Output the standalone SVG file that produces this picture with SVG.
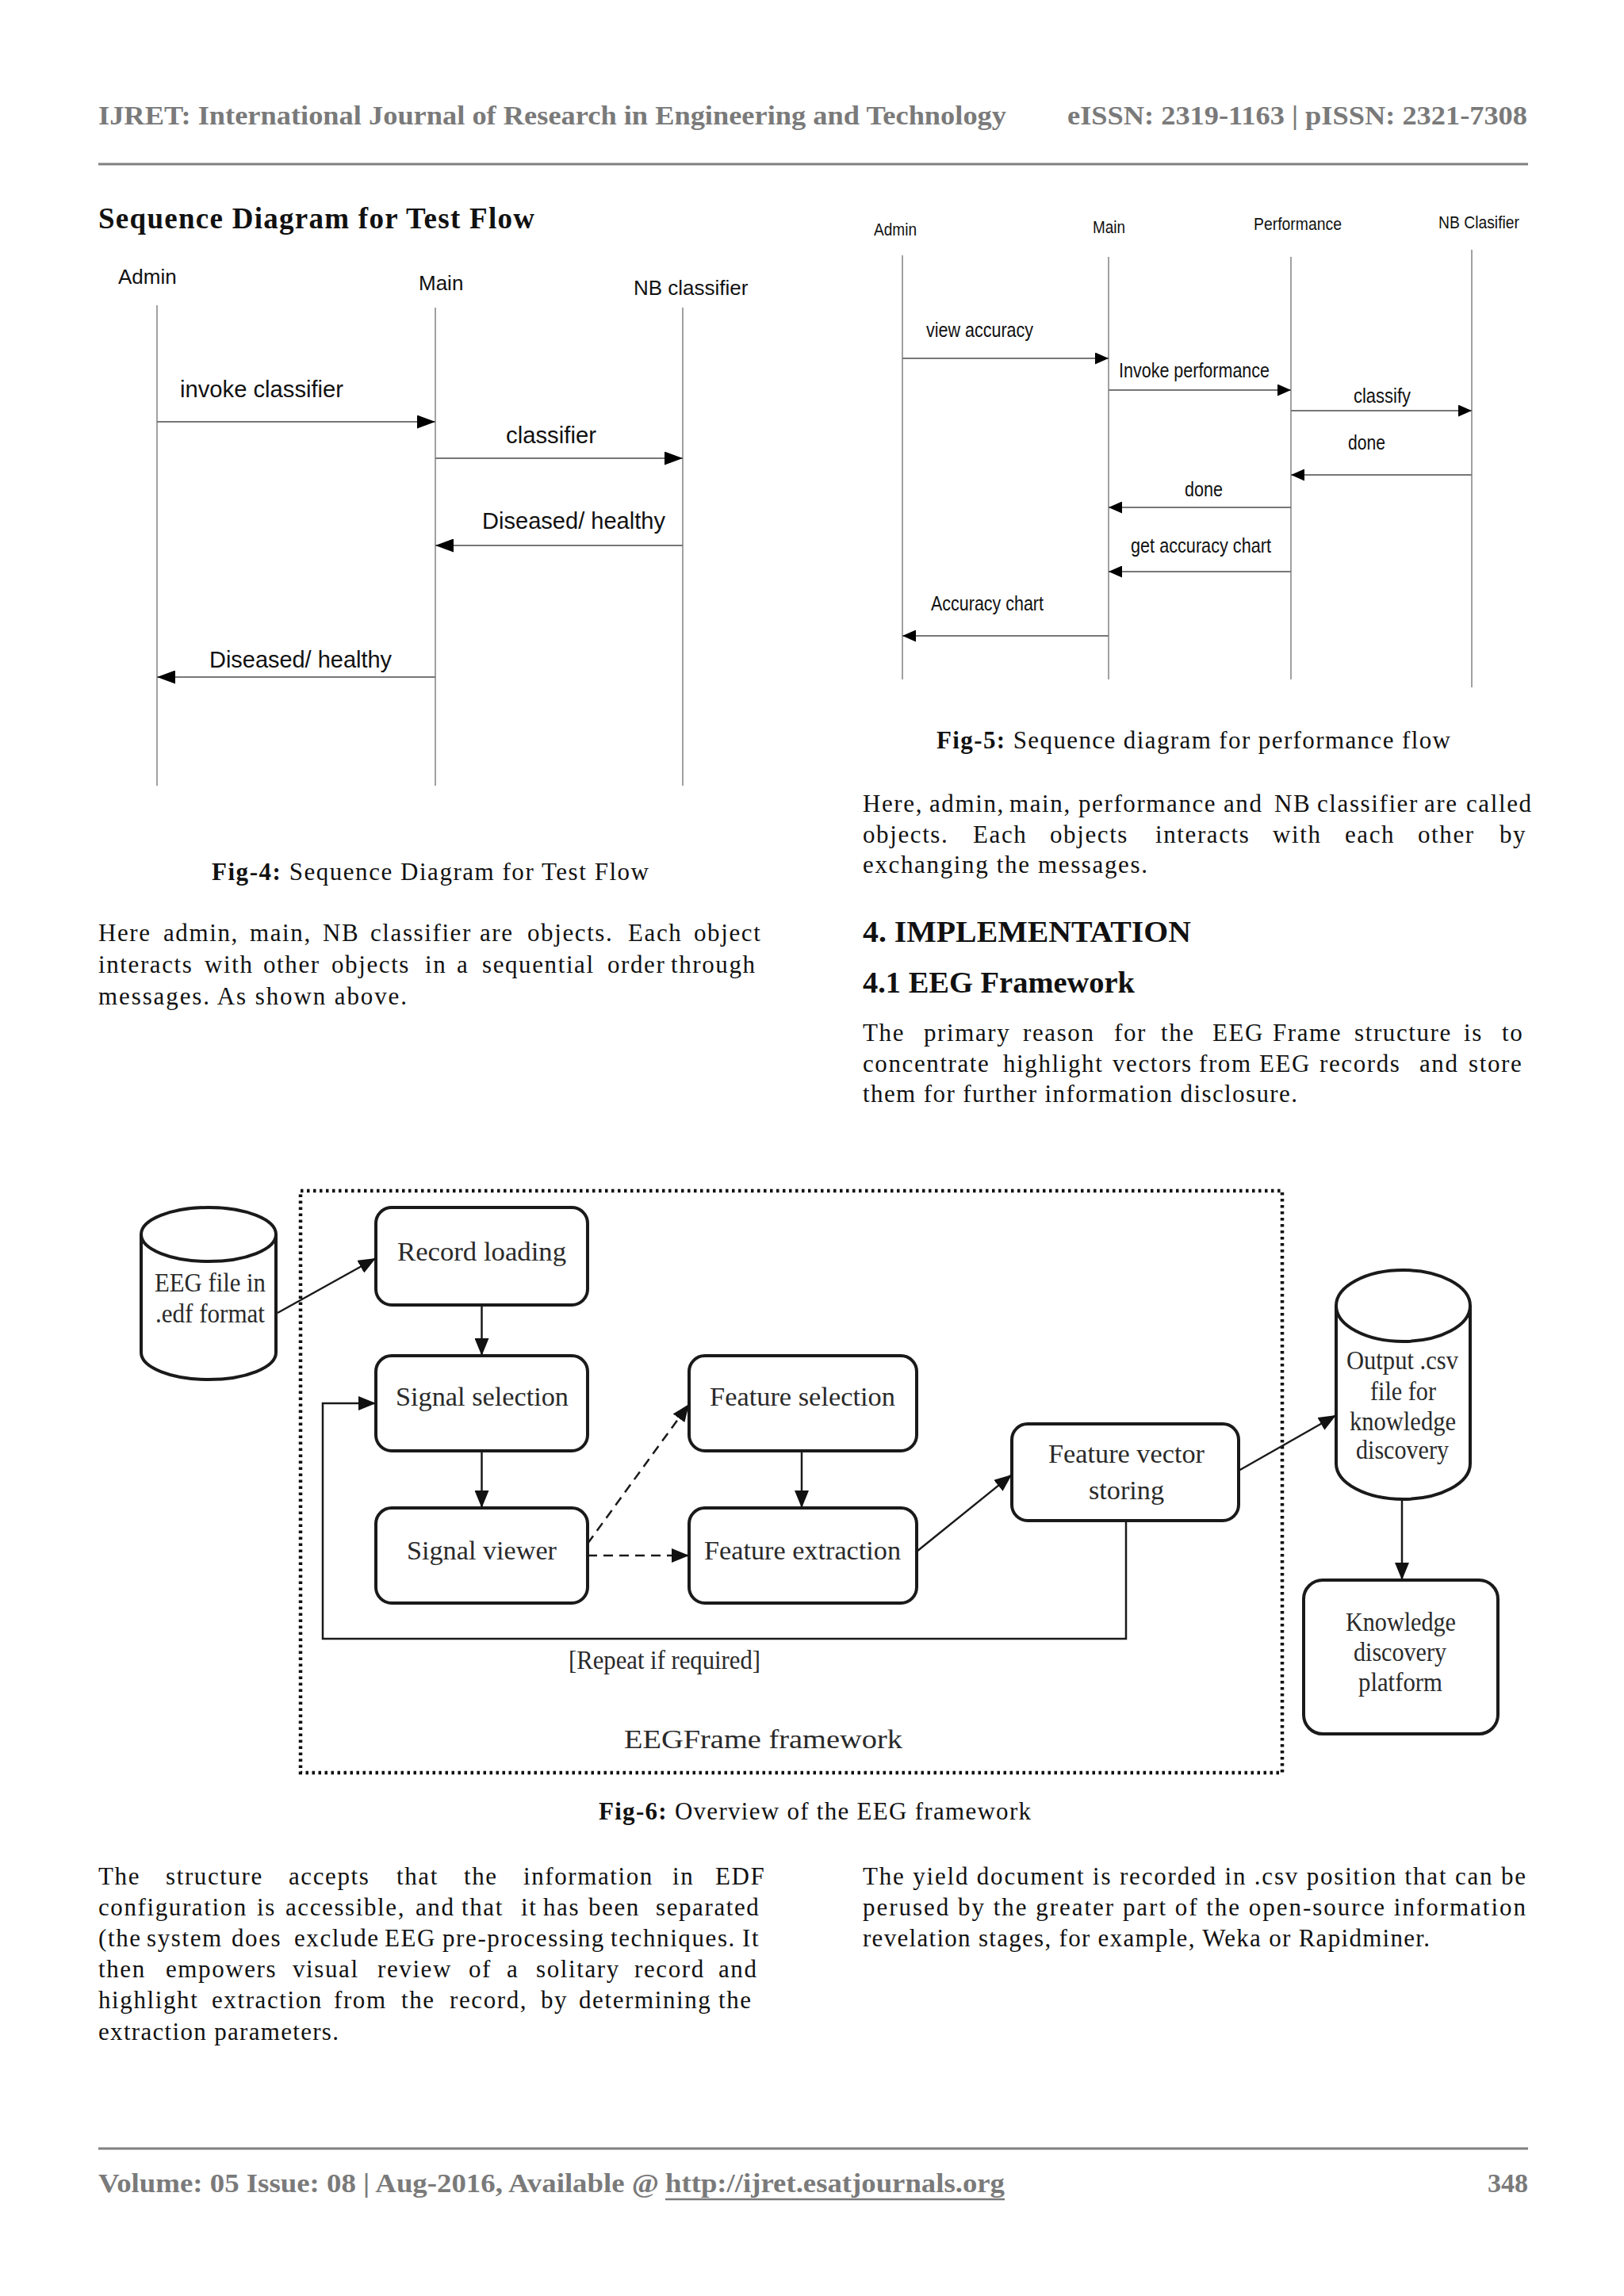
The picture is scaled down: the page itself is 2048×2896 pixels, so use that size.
<svg xmlns="http://www.w3.org/2000/svg" width="2048" height="2896" viewBox="0 0 2048 2896">
<style>
.hdr{font-family:"Liberation Serif",serif;font-weight:bold;font-size:34px;fill:#7a7a7a}
.b{font-family:"Liberation Serif",serif;font-size:31px;fill:#111;letter-spacing:1.6px}
.bt{font-family:"Liberation Serif",serif;font-size:31px;fill:#111}
.h{font-family:"Liberation Serif",serif;font-weight:bold;font-size:37px;fill:#111}
.s4{font-family:"Liberation Sans",Arial,sans-serif;font-size:26px;fill:#111}
.m4{font-family:"Liberation Sans",Arial,sans-serif;font-size:29px;fill:#111}
.s5{font-family:"Liberation Sans",Arial,sans-serif;font-size:22px;fill:#111}
.m5{font-family:"Liberation Sans",Arial,sans-serif;font-size:25px;fill:#111}
.life{stroke:#8a8a8a;stroke-width:1.6;fill:none}
.msg4{stroke:#777;stroke-width:2;fill:none;marker-end:url(#a4)}
.msg5{stroke:#777;stroke-width:2;fill:none;marker-end:url(#a5)}
.nd{fill:#fff;stroke:#1a1a1a;stroke-width:4}
.nt{font-family:"Liberation Serif",serif;font-size:33px;fill:#2a2a2a}
.cn{stroke:#1a1a1a;stroke-width:2.5;fill:none;marker-end:url(#a6)}
.dash{stroke-dasharray:12 8}
</style>
<defs>
<marker id="a4" markerUnits="userSpaceOnUse" markerWidth="23" markerHeight="17" refX="23" refY="8.5" orient="auto"><path d="M0,0 L23,8.5 L0,17 z" fill="#000"/></marker>
<marker id="a5" markerUnits="userSpaceOnUse" markerWidth="17" markerHeight="15" refX="17" refY="7.5" orient="auto"><path d="M0,0 L17,7.5 L0,15 z" fill="#000"/></marker>
<marker id="a6" markerUnits="userSpaceOnUse" markerWidth="22" markerHeight="18" refX="22" refY="9" orient="auto"><path d="M0,0 L22,9 L0,18 z" fill="#111"/></marker>
</defs>
<rect width="2048" height="2896" fill="#fff"/>

<!-- header -->
<g id="header">
<text class="hdr" x="124" y="157" textLength="1145" lengthAdjust="spacingAndGlyphs">IJRET: International Journal of Research in Engineering and Technology</text>
<text class="hdr" x="1346" y="157" textLength="580" lengthAdjust="spacingAndGlyphs">eISSN: 2319-1163 | pISSN: 2321-7308</text>
<line x1="124" y1="207" x2="1927" y2="207" stroke="#808080" stroke-width="3"/>
</g>

<!-- Fig-4 -->
<g id="fig4">
<text class="h" x="124" y="288" textLength="550" lengthAdjust="spacing">Sequence Diagram for Test Flow</text>
<g id="f4-admin"><text class="s4" x="149" y="358">Admin</text><line class="life" x1="198" y1="385" x2="198" y2="991"/></g>
<g id="f4-main"><text class="s4" x="528" y="366">Main</text><line class="life" x1="549" y1="388" x2="549" y2="991"/></g>
<g id="f4-nb"><text class="s4" x="799" y="372">NB classifier</text><line class="life" x1="861" y1="388" x2="861" y2="991"/></g>
<g id="f4-connectors">
<path class="msg4" d="M198,532 H549"/>
<path class="msg4" d="M549,578 H861"/>
<path class="msg4" d="M861,688 H549"/>
<path class="msg4" d="M549,854 H198"/>
<text class="m4" x="227" y="501" textLength="206" lengthAdjust="spacingAndGlyphs">invoke classifier</text>
<text class="m4" x="638" y="559" textLength="114" lengthAdjust="spacingAndGlyphs">classifier</text>
<text class="m4" x="608" y="667" textLength="231" lengthAdjust="spacingAndGlyphs">Diseased/ healthy</text>
<text class="m4" x="264" y="842" textLength="230" lengthAdjust="spacingAndGlyphs">Diseased/ healthy</text>
</g>
<text class="bt" x="267" y="1110" textLength="551" lengthAdjust="spacing"><tspan font-weight="bold">Fig-4:</tspan> Sequence Diagram  for Test Flow</text>
</g>

<!-- left para 1 -->
<text class="b" y="1187"><tspan x="124">Here </tspan><tspan x="206">admin, </tspan><tspan x="315">main, </tspan><tspan x="407">NB </tspan><tspan x="467">classifier </tspan><tspan x="605">are </tspan><tspan x="665">objects. </tspan><tspan x="792">Each </tspan><tspan x="875">object</tspan></text>
<text class="b" y="1227"><tspan x="124">interacts </tspan><tspan x="258">with </tspan><tspan x="332">other </tspan><tspan x="418">objects </tspan><tspan x="536">in </tspan><tspan x="576">a </tspan><tspan x="608">sequential </tspan><tspan x="766">order </tspan><tspan x="846">through</tspan></text>
<text class="bt" x="124" y="1267" textLength="389" lengthAdjust="spacing">messages. As shown above.</text>

<!-- Fig-5 -->
<g id="fig5">
<g id="f5-admin"><text class="s5" x="1102" y="297" textLength="54" lengthAdjust="spacingAndGlyphs">Admin</text><line class="life" x1="1138" y1="322" x2="1138" y2="857"/></g>
<g id="f5-main"><text class="s5" x="1378" y="294" textLength="41" lengthAdjust="spacingAndGlyphs">Main</text><line class="life" x1="1398" y1="324" x2="1398" y2="857"/></g>
<g id="f5-perf"><text class="s5" x="1581" y="290" textLength="111" lengthAdjust="spacingAndGlyphs">Performance</text><line class="life" x1="1628" y1="324" x2="1628" y2="857"/></g>
<g id="f5-nb"><text class="s5" x="1814" y="288" textLength="102" lengthAdjust="spacingAndGlyphs">NB Clasifier</text><line class="life" x1="1856" y1="315" x2="1856" y2="867"/></g>
<g id="f5-connectors">
<path class="msg5" d="M1138,452 H1398"/>
<path class="msg5" d="M1398,492 H1628"/>
<path class="msg5" d="M1628,518 H1856"/>
<path class="msg5" d="M1856,599 H1628"/>
<path class="msg5" d="M1628,640 H1398"/>
<path class="msg5" d="M1628,721 H1398"/>
<path class="msg5" d="M1398,802 H1138"/>
<text class="m5" x="1168" y="425" textLength="135" lengthAdjust="spacingAndGlyphs">view accuracy</text>
<text class="m5" x="1411" y="476" textLength="190" lengthAdjust="spacingAndGlyphs">Invoke performance</text>
<text class="m5" x="1707" y="508" textLength="72" lengthAdjust="spacingAndGlyphs">classify</text>
<text class="m5" x="1700" y="567" textLength="47" lengthAdjust="spacingAndGlyphs">done</text>
<text class="m5" x="1494" y="626" textLength="48" lengthAdjust="spacingAndGlyphs">done</text>
<text class="m5" x="1426" y="697" textLength="177" lengthAdjust="spacingAndGlyphs">get accuracy chart</text>
<text class="m5" x="1174" y="770" textLength="142" lengthAdjust="spacingAndGlyphs">Accuracy chart</text>
</g>
<text class="bt" x="1181" y="944" textLength="648" lengthAdjust="spacing"><tspan font-weight="bold">Fig-5:</tspan> Sequence diagram for performance  flow</text>
</g>

<!-- right para 1 -->
<text class="b" y="1024" letter-spacing="1.2"><tspan x="1088">Here, </tspan><tspan x="1172">admin, </tspan><tspan x="1273">main, </tspan><tspan x="1360">performance </tspan><tspan x="1543">and </tspan><tspan x="1607">NB </tspan><tspan x="1661">classifier </tspan><tspan x="1796">are </tspan><tspan x="1849">called</tspan></text>
<text class="b" y="1063"><tspan x="1088">objects. </tspan><tspan x="1227">Each </tspan><tspan x="1324">objects </tspan><tspan x="1457">interacts </tspan><tspan x="1605">with </tspan><tspan x="1696">each </tspan><tspan x="1788">other </tspan><tspan x="1891">by</tspan></text>
<text class="bt" x="1088" y="1101" textLength="359" lengthAdjust="spacing">exchanging the messages.</text>
<text class="h" x="1088" y="1188" textLength="414" lengthAdjust="spacingAndGlyphs">4. IMPLEMENTATION</text>
<text class="h" x="1088" y="1252" textLength="343" lengthAdjust="spacingAndGlyphs">4.1 EEG Framework</text>
<text class="b" y="1313"><tspan x="1088">The </tspan><tspan x="1165">primary </tspan><tspan x="1290">reason </tspan><tspan x="1405">for </tspan><tspan x="1464">the </tspan><tspan x="1529">EEG </tspan><tspan x="1605">Frame </tspan><tspan x="1708">structure </tspan><tspan x="1846">is </tspan><tspan x="1894">to</tspan></text>
<text class="b" y="1352" letter-spacing="0.8"><tspan x="1088">concentrate </tspan><tspan x="1265">highlight </tspan><tspan x="1403">vectors </tspan><tspan x="1512">from </tspan><tspan x="1588">EEG </tspan><tspan x="1664">records </tspan><tspan x="1790">and </tspan><tspan x="1852">store</tspan></text>
<text class="bt" x="1088" y="1390" textLength="548" lengthAdjust="spacing">them for further information  disclosure.</text>

<!-- Fig-6 -->
<g id="fig6">
<rect id="frame" x="379" y="1502" width="1238" height="734" fill="none" stroke="#111" stroke-width="4.5" stroke-dasharray="3.5 4.5"/>
<g id="n-eeg">
<path class="nd" d="M178,1557 L178,1706 A85,34 0 0 0 348,1706 L348,1557"/>
<ellipse class="nd" cx="263" cy="1557" rx="85" ry="34"/>
<text class="nt" x="195" y="1629" textLength="140" lengthAdjust="spacingAndGlyphs">EEG file in</text>
<text class="nt" x="196" y="1668" textLength="138" lengthAdjust="spacingAndGlyphs">.edf format</text>
</g>
<g id="n-record"><rect class="nd" x="474" y="1523" width="267" height="123" rx="20"/><text class="nt" x="501" y="1590" textLength="213" lengthAdjust="spacingAndGlyphs">Record loading</text></g>
<g id="n-sigsel"><rect class="nd" x="474" y="1710" width="267" height="120" rx="20"/><text class="nt" x="499" y="1773" textLength="218" lengthAdjust="spacingAndGlyphs">Signal selection</text></g>
<g id="n-sigview"><rect class="nd" x="474" y="1902" width="267" height="120" rx="20"/><text class="nt" x="513" y="1967" textLength="189" lengthAdjust="spacingAndGlyphs">Signal viewer</text></g>
<g id="n-featsel"><rect class="nd" x="869" y="1710" width="287" height="120" rx="20"/><text class="nt" x="895" y="1773" textLength="234" lengthAdjust="spacingAndGlyphs">Feature selection</text></g>
<g id="n-featext"><rect class="nd" x="869" y="1902" width="287" height="120" rx="20"/><text class="nt" x="888" y="1967" textLength="248" lengthAdjust="spacingAndGlyphs">Feature extraction</text></g>
<g id="n-fvs"><rect class="nd" x="1276" y="1796" width="286" height="122" rx="20"/><text class="nt" x="1322" y="1845" textLength="197" lengthAdjust="spacingAndGlyphs">Feature vector</text><text class="nt" x="1373" y="1891" textLength="95" lengthAdjust="spacingAndGlyphs">storing</text></g>
<g id="n-output">
<path class="nd" d="M1685,1647 L1685,1846 A84.5,45 0 0 0 1854,1846 L1854,1647"/>
<ellipse class="nd" cx="1769.5" cy="1647" rx="84.5" ry="45"/>
<text class="nt" x="1698" y="1727" textLength="141" lengthAdjust="spacingAndGlyphs">Output .csv</text>
<text class="nt" x="1728" y="1766" textLength="83" lengthAdjust="spacingAndGlyphs">file for</text>
<text class="nt" x="1702" y="1804" textLength="134" lengthAdjust="spacingAndGlyphs">knowledge</text>
<text class="nt" x="1710" y="1840" textLength="117" lengthAdjust="spacingAndGlyphs">discovery</text>
</g>
<g id="n-kdp"><rect class="nd" x="1644" y="1993" width="245" height="194" rx="24"/>
<text class="nt" x="1697" y="2057" textLength="139" lengthAdjust="spacingAndGlyphs">Knowledge</text>
<text class="nt" x="1707" y="2095" textLength="117" lengthAdjust="spacingAndGlyphs">discovery</text>
<text class="nt" x="1713" y="2133" textLength="106" lengthAdjust="spacingAndGlyphs">platform</text>
</g>
<g id="f6-connectors">
<path class="cn" d="M350,1656 L474,1587"/>
<path class="cn" d="M607.5,1646 V1710"/>
<path class="cn" d="M607.5,1830 V1902"/>
<path class="cn dash" d="M741,1947 L869,1771"/>
<path class="cn dash" d="M741,1962 H869"/>
<path class="cn" d="M1011,1830 V1902"/>
<path class="cn" d="M1156,1957 L1276,1860"/>
<path class="cn" d="M1562,1855 L1685,1785"/>
<path class="cn" d="M1768,1891 V1993"/>
<path class="cn" d="M1420,1918 V2067 H407 V1770 H474"/>
<text class="nt" x="717" y="2105" font-size="30" textLength="242" lengthAdjust="spacingAndGlyphs">[Repeat if required]</text>
</g>
<text class="nt" x="787" y="2205" font-size="42" textLength="351" lengthAdjust="spacingAndGlyphs">EEGFrame framework</text>
<text class="bt" x="755" y="2295" textLength="545" lengthAdjust="spacing"><tspan font-weight="bold">Fig-6:</tspan> Overview of the EEG  framework</text>
</g>

<!-- bottom left para -->
<text class="b" y="2377"><tspan x="124">The </tspan><tspan x="209">structure </tspan><tspan x="364">accepts </tspan><tspan x="500">that </tspan><tspan x="585">the </tspan><tspan x="660">information </tspan><tspan x="848">in </tspan><tspan x="902">EDF</tspan></text>
<text class="b" y="2416"><tspan x="124">configuration </tspan><tspan x="324">is </tspan><tspan x="360">accessible, </tspan><tspan x="524">and </tspan><tspan x="582">that </tspan><tspan x="657">it </tspan><tspan x="685">has </tspan><tspan x="742">been </tspan><tspan x="827">separated</tspan></text>
<text class="b" y="2455" letter-spacing="0.5"><tspan x="124">(the </tspan><tspan x="185">system </tspan><tspan x="292">does </tspan><tspan x="371">exclude </tspan><tspan x="485">EEG </tspan><tspan x="558">pre-processing </tspan><tspan x="770">techniques. </tspan><tspan x="936">It</tspan></text>
<text class="b" y="2494"><tspan x="124">then </tspan><tspan x="209">empowers </tspan><tspan x="369">visual </tspan><tspan x="476">review </tspan><tspan x="591">of </tspan><tspan x="639">a </tspan><tspan x="676">solitary </tspan><tspan x="800">record </tspan><tspan x="906">and</tspan></text>
<text class="b" y="2533"><tspan x="124">highlight </tspan><tspan x="267">extraction </tspan><tspan x="421">from </tspan><tspan x="506">the </tspan><tspan x="567">record, </tspan><tspan x="682">by </tspan><tspan x="730">determining </tspan><tspan x="906">the</tspan></text>
<text class="bt" x="124" y="2573" textLength="303" lengthAdjust="spacing">extraction parameters.</text>

<!-- bottom right para -->
<text class="bt" x="1088" y="2377" textLength="836" lengthAdjust="spacing">The yield document is recorded in .csv position that can be</text>
<text class="bt" x="1088" y="2416" textLength="836" lengthAdjust="spacing">perused by the greater part of the open-source information</text>
<text class="bt" x="1088" y="2455" textLength="715" lengthAdjust="spacing">revelation stages, for example,  Weka or Rapidminer.</text>

<!-- footer -->
<g id="footer">
<line x1="124" y1="2710" x2="1927" y2="2710" stroke="#808080" stroke-width="3"/>
<text class="hdr" x="124" y="2765" font-size="32" textLength="707" lengthAdjust="spacingAndGlyphs">Volume: 05 Issue: 08 | Aug-2016, Available @</text>
<text class="hdr" x="839" y="2765" font-size="32" textLength="428" lengthAdjust="spacingAndGlyphs">http://ijret.esatjournals.org</text>
<line x1="839" y1="2774" x2="1267" y2="2774" stroke="#7a7a7a" stroke-width="2.5"/>
<text class="hdr" x="1927" y="2765" font-size="32" text-anchor="end">348</text>
</g>
</svg>
